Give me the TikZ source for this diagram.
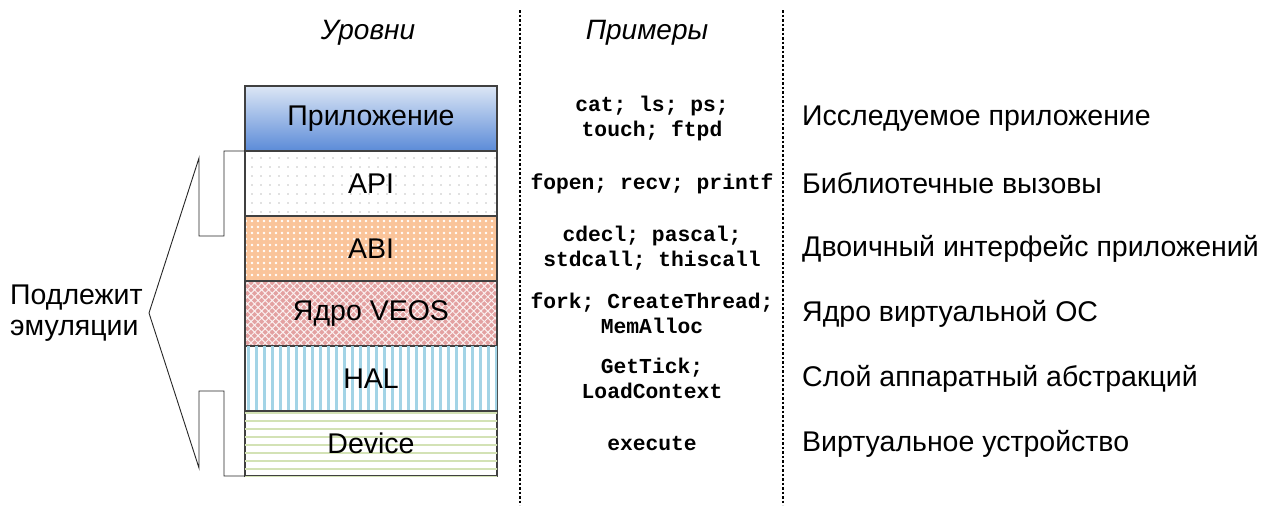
\documentclass[tikz,border=0pt]{standalone}
\usepackage{fontspec}
\setmainfont{Liberation Sans}
\setmonofont{Liberation Mono}
\usetikzlibrary{positioning, patterns.meta}

\definecolor{appTop}{HTML}{DCE6F5}
\definecolor{appBot}{HTML}{5B8BD8}
\definecolor{dotGray}{HTML}{C4C4C4}
\definecolor{abiOrange}{HTML}{FAC49A}
\definecolor{coreRed}{HTML}{E3A1A1}
\definecolor{halBlue}{HTML}{A3D4E6}
\definecolor{devGreen}{HTML}{D3E2B5}
\definecolor{boxLine}{HTML}{404040}

\begin{document}
\begin{tikzpicture} [
    x=1pt, y=-1pt,
    layer/.style={rectangle, draw=boxLine, line width=1.2pt, minimum width=252pt, minimum height=65pt, outer sep=0pt, font=\fontsize{28.5}{32}\selectfont, text centered},
    example/.style={font=\ttfamily\bfseries\fontsize{21.3}{25}\selectfont, align=center, inner sep=0pt},
    desc/.style={anchor=west, inner sep=0pt, font=\fontsize{28.5}{32}\selectfont},
    head/.style={font=\itshape\fontsize{28}{32}\selectfont},
    sep/.style={line width=2pt, dash pattern=on 2.5pt off 2pt},
    brace line/.style={draw=black!85, line width=0.9pt}
]

\useasboundingbox (0,0) rectangle (1268,509);

% Column headers
\node[head] (h_levels) at (368,33) {Уровни};
\node[head] (h_examples) at (647,33) {Примеры};

% Layer stack
\node[layer, top color=appTop, bottom color=appBot, anchor=north west] (app) at (245,86) {Приложение};
\node[layer, below=0pt of app, fill=white, postaction={pattern={Dots[distance=9pt, radius=0.9pt]}, pattern color=dotGray}] (api) {API};
\node[layer, below=0pt of api, preaction={fill=abiOrange}, pattern={Dots[distance=6pt, radius=1.3pt]}, pattern color=white] (abi) {ABI};
\node[layer, below=0pt of abi, preaction={fill=coreRed}, pattern={Hatch[angle=45, distance=5pt, line width=1pt]}, pattern color=white!85!coreRed] (core) {Ядро VEOS};
\node[layer, below=0pt of core, fill=white, postaction={pattern={Lines[angle=90, distance=8pt, line width=3pt]}, pattern color=halBlue}] (hal) {HAL};
\node[layer, below=0pt of hal, fill=white, postaction={pattern={Lines[angle=0, distance=8pt, line width=2.5pt]}, pattern color=devGreen}] (dev) {Device};

% Column anchors
\coordinate (excol) at (652,0);
\coordinate (desccol) at (802,0);

% Examples
\node[example] (ex_app) at (app -| excol) {cat; ls; ps;\\touch; ftpd};
\node[example] (ex_api) at (api -| excol) {fopen; recv; printf};
\node[example] (ex_abi) at (abi -| excol) {cdecl; pascal;\\stdcall; thiscall};
\node[example] (ex_core) at (core -| excol) {fork; CreateThread;\\MemAlloc};
\node[example] (ex_hal) at (hal -| excol) {GetTick;\\LoadContext};
\node[example] (ex_dev) at (dev -| excol) {execute};

% Descriptions
\node[desc] (d_app) at (app -| desccol) {Исследуемое приложение};
\node[desc] (d_api) at (api -| desccol) {Библиотечные вызовы};
\node[desc] (d_abi) at (abi -| desccol) {Двоичный интерфейс приложений};
\node[desc] (d_core) at (core -| desccol) {Ядро виртуальной ОС};
\node[desc] (d_hal) at (hal -| desccol) {Слой аппаратный абстракций};
\node[desc] (d_dev) at (dev -| desccol) {Виртуальное устройство};

% Emulated part
\node[anchor=west, align=left, inner sep=0pt, font=\fontsize{28.5}{31}\selectfont] (emul) at (10,313) {Подлежит\\эмуляции};
\draw[brace line] (api.north west) -- ++(-21,0) -- ++(0,85) -- ++(-25,0) -- ++(0,-78)
    -- ++(-50,155) -- ++(50,155) -- ++(0,-77) -- ++(25,0) -- (dev.south west -| 224,0) -- (dev.south west);

% Column separators
\draw[sep] (520,10) -- (520,505);
\draw[sep] (783,10) -- (783,505);

\end{tikzpicture}
\end{document}
